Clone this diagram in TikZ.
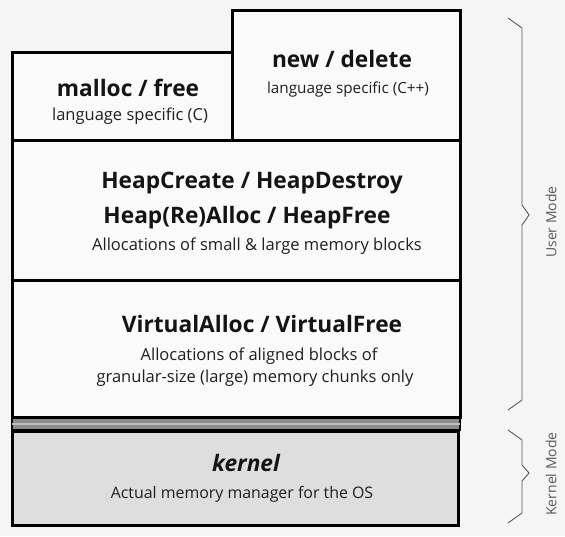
\documentclass[tikz,border=0pt]{standalone}
\usepackage{fontspec}
\setmainfont{Open Sans}
\usetikzlibrary{calc}
\begin{document}
\begin{tikzpicture}[x=1pt,y=-1pt,
  box/.style={draw=black,line width=3pt,fill=white!98!black,inner sep=0pt},
  ttl/.style={font=\fontsize{22.7}{26}\selectfont\bfseries,text=black!92,inner sep=0pt,anchor=base},
  sub/.style={font=\fontsize{16.5}{19}\selectfont,text=black!88,inner sep=0pt,anchor=base},
  brace/.style={draw=black!65,line width=0.9pt,line join=miter},
  mode/.style={font=\fontsize{14}{16}\selectfont,text=black!65,rotate=90,inner sep=0pt}]
\fill[white!96!black] (0,0) rectangle (565,536);
\useasboundingbox (0,0) rectangle (565,536);
% boxes
\node[box,minimum width=220pt,minimum height=88pt] (malloc) at (122,96) {};
\node[box,minimum width=228pt,minimum height=130pt] (newdel) at (346,75) {};
\node[box,minimum width=448pt,minimum height=140pt] (heap) at (236,210) {};
\node[box,minimum width=448pt,minimum height=137pt] (virt) at (236,348.5) {};
\node[draw=black,line width=2.5pt,fill=black!45,minimum width=448pt,minimum height=12pt,inner sep=0pt] (band) at (236,424) {};
\fill[black!25] ($(band.west)+(1.5,-1.2)$) rectangle ($(band.east)+(-1.5,1.2)$);
\node[box,fill=black!13,minimum width=446pt,minimum height=94pt] (kern) at (235,478) {};
% texts
\node[ttl] (t1) at (128,96) {malloc / free};
\node[sub] (s1) at (130,120) {language specific (C)};
\node[ttl] (t2) at (342,67) {new / delete};
\node[sub,font=\fontsize{15.3}{18}\selectfont] (s2) at (348,93) {language specific (C++)};
\node[ttl] (t3) at (252,188) {HeapCreate / HeapDestroy};
\node[ttl] (t4) at (247,223) {Heap(Re)Alloc / HeapFree};
\node[sub] (s3) at (257,250) {Allocations of small \& large memory blocks};
\node[ttl] (t5) at (262,332) {VirtualAlloc / VirtualFree};
\node[sub] (s4) at (259,360) {Allocations of aligned blocks of};
\node[sub] (s4b) at (255,382) {granular-size (large) memory chunks only};
\node[ttl,font=\fontsize{22.7}{26}\selectfont\bfseries\itshape] (t6) at (246,471) {kernel};
\node[sub,font=\fontsize{15.9}{18}\selectfont] (s5) at (242,498) {Actual memory manager for the OS};
% braces
\coordinate (u1) at (508,18);
\coordinate (u2) at (522,28);
\coordinate (u3) at (522,205);
\coordinate (u4) at (529,215);
\coordinate (u5) at (522,225);
\coordinate (u6) at (522,400);
\coordinate (u7) at (508,410);
\draw[brace] (u1) -- (u2) -- (u3) -- (u4) -- (u5) -- (u6) -- (u7);
\coordinate (k1) at (508,430);
\coordinate (k2) at (522,440);
\coordinate (k3) at (522,465);
\coordinate (k4) at (529,473);
\coordinate (k5) at (522,481);
\coordinate (k6) at (522,513);
\coordinate (k7) at (508,523);
\draw[brace] (k1) -- (k2) -- (k3) -- (k4) -- (k5) -- (k6) -- (k7);
\node[mode] (um) at (551,222) {User Mode};
\node[mode] (km) at (551,474) {Kernel Mode};
\end{tikzpicture}
\end{document}
